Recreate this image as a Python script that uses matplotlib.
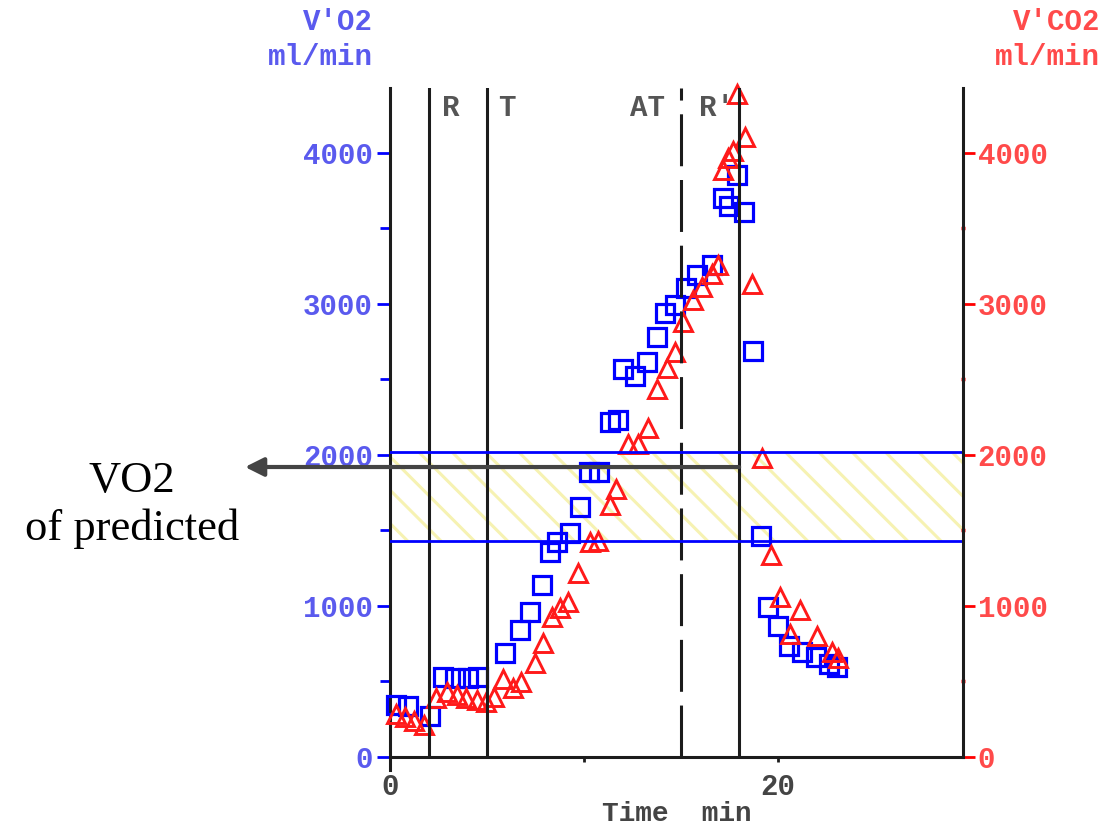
import numpy as np
import matplotlib.pyplot as plt
from matplotlib.ticker import MultipleLocator, FixedLocator

# V'O2 (ml/min), blue squares
vo2_t = [0.31, 0.93, 2.06, 2.73, 3.35, 4.02, 4.54, 5.93, 6.70, 7.22, 7.84, 8.25,
         8.61, 9.28, 9.79, 10.26, 10.77, 11.34, 11.75, 12.0, 12.63, 13.25, 13.76,
         14.18, 14.69, 15.26, 15.82, 16.6, 17.16, 17.47, 17.89, 18.25, 18.71,
         19.12, 19.48, 20.0, 20.57, 21.24, 21.96, 22.63, 23.04]
vo2 = [344, 338, 272, 530, 523, 523, 530, 689, 841, 960, 1139, 1358,
       1424, 1483, 1656, 1887, 1887, 2219, 2232, 2570, 2523, 2616, 2781,
       2940, 2993, 3106, 3192, 3258, 3702, 3649, 3854, 3609, 2689,
       1464, 993, 868, 735, 695, 662, 616, 596]

# V'CO2 (ml/min), red triangles
vco2_t = [0.31, 0.77, 1.24, 1.75, 2.37, 2.94, 3.45, 3.92, 4.48, 4.95, 5.36, 5.82,
          6.34, 6.75, 7.47, 7.89, 8.35, 8.76, 9.18, 9.69, 10.31, 10.72, 11.34,
          11.65, 12.27, 12.78, 13.3, 13.76, 14.28, 14.69, 15.1, 15.62, 16.08,
          16.6, 16.9, 17.16, 17.42, 17.68, 18.3, 17.89, 18.66, 19.18, 19.64,
          20.1, 21.13, 20.62, 22.0, 22.78, 23.09]
vco2 = [285, 265, 238, 212, 391, 430, 411, 391, 377, 364, 397, 517,
        457, 497, 623, 755, 927, 987, 1026, 1219, 1424, 1430, 1669,
        1775, 2073, 2073, 2179, 2437, 2576, 2682, 2881, 3026, 3113,
        3199, 3258, 3887, 3967, 4013, 4106, 4391, 3132, 1980, 1338,
        1060, 974, 815, 801, 695, 656]

# phase markers (min)
phase_lines = [2, 5, 18]
at_line = 15
phase_labels = ['R', 'T', 'AT', "R'"]
phase_label_t = [3.15, 6.0, 13.3, 16.85]

# predicted VO2 band (ml/min)
band_lo, band_hi = 1430, 2020
arrow_level = 1920

x_max = 29.54
y_max = 4430

mono = 'Liberation Mono'
blue_txt = '#5a5aee'
red_txt = '#ff4a4a'
dark = '#1c1c1c'
fs = 21

plt.rcParams['hatch.linewidth'] = 2.2

fig = plt.figure(figsize=(11.14, 8.32), dpi=100)
ax = fig.add_axes([0.35009, 0.09014, 0.51436, 0.80409])
ax2 = ax.twinx()

ax.set_xlim(0, x_max)
ax.set_ylim(0, y_max)
ax2.set_ylim(0, y_max)

# hatched band
ax.axhspan(band_lo, band_hi, facecolor='none', edgecolor='#f6f2b2', hatch='\\',
           linewidth=0, zorder=1)

ax.plot(vo2_t, vo2, 's', ms=13, mfc='none', mec='#0000ff', mew=2.3, zorder=3, clip_on=False)
ax.plot(vco2_t, vco2, '^', ms=13, mfc='none', mec='#ff1a1a', mew=2.1, zorder=4, clip_on=False)

for t in phase_lines:
    ax.axvline(t, color=dark, lw=2.2, zorder=5)
ax.axvline(at_line, color=dark, lw=2.2, dashes=(17, 4.5), zorder=5)

ax.axhline(band_lo, color='#0000ff', lw=2, zorder=6)
ax.axhline(band_hi, color='#0000ff', lw=2, zorder=6)

for lab, t in zip(phase_labels, phase_label_t):
    ax.text(t, 4298, lab, ha='center', va='center', fontsize=fs, family=mono,
            fontweight='bold', color='#555555', zorder=7)

# spines
for s in ['top', 'right']:
    ax.spines[s].set_visible(False)
ax.spines['left'].set_linewidth(2.2)
ax.spines['left'].set_color(dark)
ax.spines['left'].set_bounds(-86, y_max)
ax.spines['bottom'].set_linewidth(2.2)
ax.spines['bottom'].set_color(dark)
for s in ['top', 'left', 'bottom']:
    ax2.spines[s].set_visible(False)
ax2.spines['right'].set_linewidth(2.2)
ax2.spines['right'].set_color(dark)

# left axis ticks
ax.yaxis.set_major_locator(MultipleLocator(1000))
ax.yaxis.set_minor_locator(MultipleLocator(500))
ax.tick_params(axis='y', which='major', direction='out', length=9.4, width=2,
               color='#0000ff', labelcolor=blue_txt, labelsize=fs, pad=3)
ax.tick_params(axis='y', which='minor', direction='out', length=7, width=2,
               color='#0000ff')
for lab in ax.get_yticklabels():
    lab.set_family(mono)
    lab.set_fontweight('bold')

# right axis ticks
ax2.yaxis.set_major_locator(MultipleLocator(1000))
ax2.yaxis.set_minor_locator(MultipleLocator(500))
ax2.tick_params(axis='y', which='major', direction='out', length=8.6, width=2,
                color='#ff0000', labelcolor=red_txt, labelsize=fs, pad=2)
ax2.tick_params(axis='y', which='minor', direction='inout', length=3.5, width=2.5,
                color='#ff0000')
for lab in ax2.get_yticklabels():
    lab.set_family(mono)
    lab.set_fontweight('bold')

# x axis
ax.xaxis.set_major_locator(FixedLocator([0, 10, 20]))
ax.set_xticklabels(['0', '', '20'])
ax.tick_params(axis='x', direction='out', length=3.6, width=2, color=dark,
               labelcolor='#444444', labelsize=fs, pad=8)
for lab in ax.get_xticklabels():
    lab.set_family(mono)
    lab.set_fontweight('bold')
ax.set_xlabel('Time  min', family=mono, fontweight='bold', fontsize=fs - 1,
              color='#444444', labelpad=0)

# axis titles
fig.text(373 / 1114, 1 - 22 / 832, "V'O2", ha='right', va='center', family=mono,
         fontweight='bold', fontsize=fs, color=blue_txt)
fig.text(373 / 1114, 1 - 57 / 832, "ml/min", ha='right', va='center', family=mono,
         fontweight='bold', fontsize=fs, color=blue_txt)
fig.text(1100 / 1114, 1 - 22 / 832, "V'CO2", ha='right', va='center', family=mono,
         fontweight='bold', fontsize=fs, color=red_txt)
fig.text(1100 / 1114, 1 - 57 / 832, "ml/min", ha='right', va='center', family=mono,
         fontweight='bold', fontsize=fs, color=red_txt)

# arrow to predicted VO2 annotation
ax.annotate('', xy=(245 / 1114, 1 - 467 / 832), xycoords='figure fraction',
            xytext=(phase_lines[-1], arrow_level), textcoords='data',
            arrowprops=dict(arrowstyle='-|>', lw=3, color='#444444',
                            mutation_scale=28, shrinkA=0, shrinkB=0),
            zorder=8, annotation_clip=False)
fig.text(132 / 1114, 1 - 492 / 832, 'VO2', ha='center', va='baseline',
         family='Liberation Serif', fontsize=32, color='black')
fig.text(132 / 1114, 1 - 540 / 832, 'of predicted', ha='center', va='baseline',
         family='Liberation Serif', fontsize=32, color='black')

fig.savefig('out.png', dpi=100)
